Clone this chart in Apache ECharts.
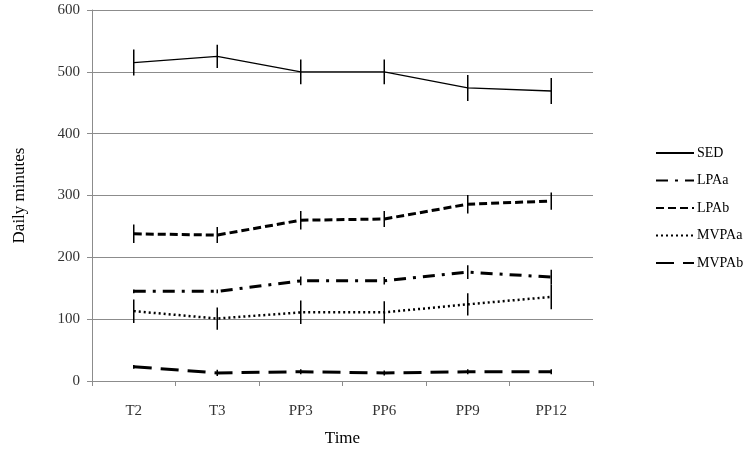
<!DOCTYPE html>
<html><head><meta charset="utf-8">
<script src="https://cdn.jsdelivr.net/npm/echarts@6/dist/echarts.min.js"></script>
<style>html,body{margin:0;padding:0;background:#fff}#c{width:745px;height:451px}</style>
</head><body><div id="c"></div>
<script>
var categories = ['T2','T3','PP3','PP6','PP9','PP12'];
var SED   = [515, 525, 500, 500, 474, 469];
var LPAa  = [145, 145, 162, 162, 176, 168];
var LPAb  = [238, 236, 260, 262, 286, 291];
var MVPAa = [113, 101, 111, 111, 124, 136];
var MVPAb = [23, 13, 15, 13, 15, 15];
var SED_err   = [21, 19, 20, 20, 21, 21];
var LPAa_err  = [3, 3, 7, 6, 11, 12];
var LPAb_err  = [15, 13, 15, 13, 15, 14];
var MVPAa_err = [19, 18, 19, 18, 18, 20];
var MVPAb_err = [3, 5, 4, 4, 4, 4];
var yTicks = [0, 100, 200, 300, 400, 500, 600];

var serif = '"Liberation Serif", "DejaVu Serif", serif';
var axisGrey = '#8c8c8c';

function errData(vals, errs){
  return vals.map(function(v,i){ return [i, v - errs[i], v + errs[i]]; });
}
function errSeries(vals, errs){
  return {
    type: 'custom',
    silent: true,
    z: 5,
    renderItem: function(params, api){
      var p1 = api.coord([api.value(0), api.value(1)]);
      var p2 = api.coord([api.value(0), api.value(2)]);
      return {type:'line', shape:{x1:p1[0], y1:p1[1], x2:p2[0], y2:p2[1]},
              style:{stroke:'#000', lineWidth:1.5}};
    },
    data: errData(vals, errs)
  };
}
function lineSeries(name, vals, width, dash){
  return {
    name: name, type: 'line', data: vals, symbol: 'none',
    lineStyle: {color:'#000', width: width, type: dash},
    itemStyle: {color:'#000'},
    z: 4
  };
}

var chart = echarts.init(document.getElementById('c'), null, {renderer:'canvas'});
chart.setOption({
  animation: false,
  backgroundColor: '#fff',
  grid: {left: 92, right: 152, top: 10, bottom: 70, outerBoundsMode: 'none', containLabel: false},
  legend: {
    orient: 'vertical', left: 655, top: 146, padding: 0,
    itemWidth: 38, itemHeight: 14, itemGap: 13.5,
    data: ['SED','LPAa','LPAb','MVPAa','MVPAb'],
    itemStyle: {opacity: 0},
    textStyle: {fontFamily: serif, fontSize: 14, color:'#000', padding: [0,0,0,-2]}
  },
  xAxis: {
    type: 'category', data: categories, boundaryGap: true,
    name: 'Time', nameLocation: 'middle', nameGap: 49,
    nameTextStyle: {fontFamily: serif, fontSize: 17, color:'#000'},
    axisLine: {lineStyle: {color: axisGrey, width: 1}},
    axisTick: {show: true, length: 5, lineStyle:{color: axisGrey}},
    axisLabel: {fontFamily: serif, fontSize: 15, color:'#333', margin: 23}
  },
  yAxis: {
    type: 'value', min: yTicks[0], max: yTicks[yTicks.length-1], interval: 100,
    name: 'Daily minutes', nameLocation: 'middle', nameGap: 64,
    nameTextStyle: {fontFamily: serif, fontSize: 17, color:'#000'},
    axisLine: {show: true, lineStyle: {color: axisGrey, width: 1}},
    axisTick: {show: true, length: 5, lineStyle:{color: axisGrey}},
    axisLabel: {fontFamily: serif, fontSize: 15, color:'#333', margin: 12},
    splitLine: {show: true, lineStyle: {color: axisGrey, width: 1}}
  },
  series: [
    lineSeries('SED', SED, 1.3, 'solid'),
    lineSeries('LPAa', LPAa, 3, [12, 7, 3, 7]),
    lineSeries('LPAb', LPAb, 3, [8, 4]),
    lineSeries('MVPAa', MVPAa, 2.5, [2, 3]),
    lineSeries('MVPAb', MVPAb, 3, [18, 9]),
    errSeries(SED, SED_err),
    errSeries(LPAa, LPAa_err),
    errSeries(LPAb, LPAb_err),
    errSeries(MVPAa, MVPAa_err),
    errSeries(MVPAb, MVPAb_err)
  ]
});
</script></body></html>
